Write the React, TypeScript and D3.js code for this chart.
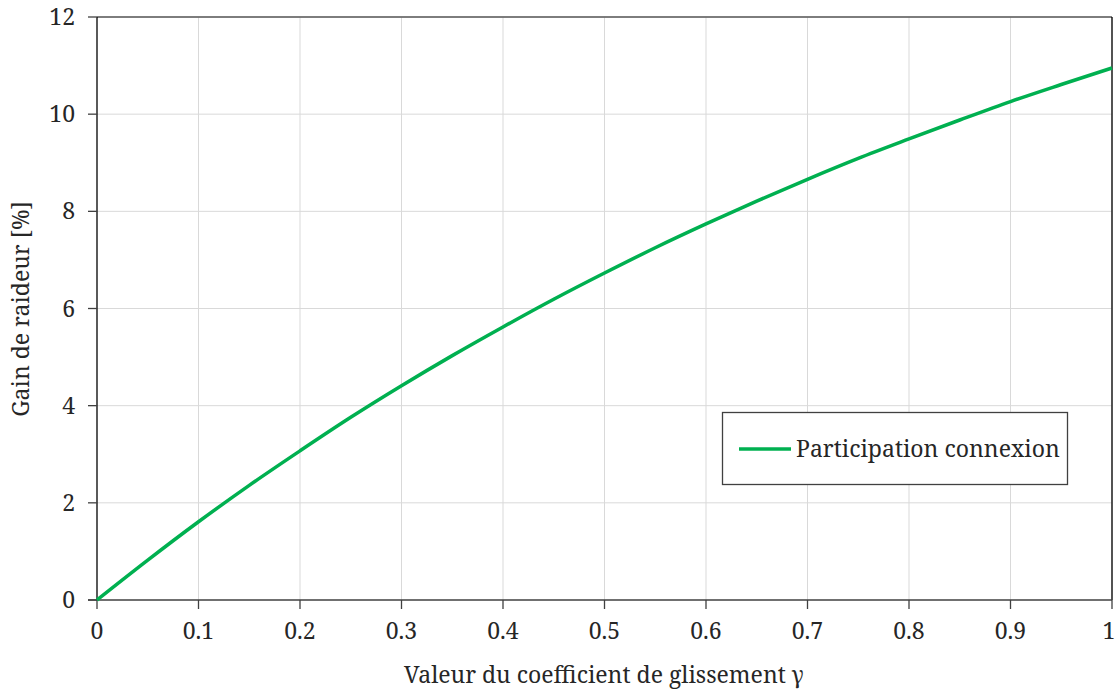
import React from "react";
import * as d3 from "d3";

const gammaValues = [0, 0.05, 0.1, 0.15, 0.2, 0.25, 0.3, 0.35, 0.4, 0.45, 0.5, 0.55, 0.6, 0.65, 0.7, 0.75, 0.8, 0.85, 0.9, 0.95, 1.0];
const gainValues = [0, 0.82, 1.61, 2.36, 3.07, 3.76, 4.41, 5.03, 5.62, 6.19, 6.73, 7.25, 7.74, 8.21, 8.66, 9.09, 9.49, 9.88, 10.26, 10.61, 10.95];
const xTicks = [0, 0.1, 0.2, 0.3, 0.4, 0.5, 0.6, 0.7, 0.8, 0.9, 1];
const yTicks = [0, 2, 4, 6, 8, 10, 12];
const seriesName = "Participation connexion";
const xTitle = "Valeur du coefficient de glissement γ";
const yTitle = "Gain de raideur [%]";

export default function App() {
  const W = 1116, H = 690;
  const left = 97, right = 1112, top = 17, bottom = 600;
  const x = d3.scaleLinear().domain([0, 1]).range([left, right]);
  const y = d3.scaleLinear().domain([0, 12]).range([bottom, top]);
  const data = gammaValues.map((g, i) => [g, gainValues[i]] as [number, number]);
  const line = d3.line<[number, number]>().x(d => x(d[0])).y(d => y(d[1])).curve(d3.curveMonotoneX);
  const fontStyle = { fontFamily: "'Noto Serif', serif" };
  const textColor = "#262626";
  return (
    <svg width={W} height={H} style={{ position: "absolute", left: 0, top: 0, background: "#fff" }}>
      {xTicks.slice(1).map(t => (
        <line key={"gx" + t} x1={x(t)} x2={x(t)} y1={top} y2={bottom} stroke="#d9d9d9" strokeWidth={1} />
      ))}
      {yTicks.slice(1).map(t => (
        <line key={"gy" + t} x1={left} x2={right} y1={y(t)} y2={y(t)} stroke="#d9d9d9" strokeWidth={1} />
      ))}
      <line x1={left} x2={right} y1={top} y2={top} stroke="#595959" strokeWidth={1.3} />
      <line x1={right} x2={right} y1={top} y2={bottom} stroke="#000" strokeWidth={1.3} />
      <line x1={left} x2={left} y1={top} y2={bottom} stroke="#000" strokeWidth={1.3} />
      <line x1={left - 9} x2={right} y1={bottom} y2={bottom} stroke="#404040" strokeWidth={1.3} />
      {yTicks.map(t => (
        <g key={"yt" + t}>
          <line x1={left - 9} x2={left} y1={y(t)} y2={y(t)} stroke="#404040" strokeWidth={1.3} />
          <text x={left - 22} y={y(t)} dy="0.35em" textAnchor="end" fontSize={23} fill={textColor} style={fontStyle}>{t}</text>
        </g>
      ))}
      {xTicks.map(t => (
        <g key={"xt" + t}>
          <line x1={x(t)} x2={x(t)} y1={bottom} y2={bottom + 9} stroke="#404040" strokeWidth={1.3} />
          <text x={Math.min(x(t), W - 7)} y={bottom + 39} textAnchor="middle" fontSize={23} fill={textColor} style={fontStyle}>{String(t)}</text>
        </g>
      ))}
      <path d={line(data) || ""} fill="none" stroke="#00B050" strokeWidth={3.5} />
      <text x={604} y={683} textAnchor="middle" fontSize={23} fill={textColor} style={fontStyle}>{xTitle}</text>
      <text transform={`translate(29,309) rotate(-90)`} textAnchor="middle" fontSize={23} fill={textColor} style={fontStyle}>{yTitle}</text>
      <rect x={722.5} y={412.5} width={345} height={72} fill="#fff" stroke="#404040" strokeWidth={1.3} />
      <line x1={739} x2={791} y1={449} y2={449} stroke="#00B050" strokeWidth={3.5} />
      <text x={796} y={457} fontSize={23} fill={textColor} style={fontStyle}>{seriesName}</text>
    </svg>
  );
}
